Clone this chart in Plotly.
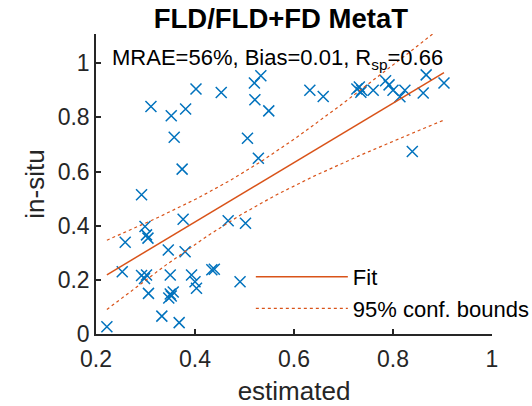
import numpy as np
import plotly.graph_objects as go

# ---- data ----
estimated = [
    0.222, 0.292, 0.299, 0.302, 0.305, 0.259, 0.376, 0.346, 0.380, 0.467,
    0.502, 0.253, 0.292, 0.302, 0.298, 0.350, 0.393, 0.400, 0.403, 0.434,
    0.439, 0.491, 0.306, 0.350, 0.347, 0.352, 0.356, 0.333, 0.368,
    0.311, 0.352, 0.381, 0.402, 0.453, 0.520, 0.533, 0.521, 0.549, 0.358,
    0.506, 0.374, 0.528,
    0.632, 0.659, 0.727, 0.732, 0.737, 0.735, 0.760, 0.785, 0.792, 0.800,
    0.814, 0.824, 0.861, 0.867, 0.903, 0.839,
]
in_situ = [
    0.027, 0.514, 0.397, 0.366, 0.354, 0.339, 0.424, 0.310, 0.304, 0.418,
    0.409, 0.230, 0.216, 0.218, 0.205, 0.218, 0.218, 0.193, 0.169, 0.237,
    0.239, 0.193, 0.150, 0.148, 0.133, 0.140, 0.155, 0.066, 0.042,
    0.840, 0.806, 0.831, 0.905, 0.892, 0.927, 0.954, 0.865, 0.824, 0.727,
    0.723, 0.609, 0.649,
    0.900, 0.877, 0.905, 0.912, 0.900, 0.893, 0.900, 0.935, 0.920, 0.900,
    0.876, 0.900, 0.890, 0.957, 0.927, 0.674,
]
# fitted line parameters: in_situ = slope*estimated + intercept
fit_slope = 1.097
fit_intercept = -0.025
title_text = "FLD/FLD+FD MetaT"
stats_text = "MRAE=56%, Bias=0.01, R<sub>sp</sub>=0.66"
x_ticks = [0.2, 0.4, 0.6, 0.8, 1.0]
x_ticklabels = ["0.2", "0.4", "0.6", "0.8", "1"]
y_ticks = [0, 0.2, 0.4, 0.6, 0.8, 1.0]
y_ticklabels = ["0", "0.2", "0.4", "0.6", "0.8", "1"]

# ---- 95% (simultaneous) confidence bounds of the fitted line ----
x = np.array(estimated)
y = np.array(in_situ)
n = len(x)
res = y - (fit_intercept + fit_slope * x)
s = np.sqrt(np.sum(res ** 2) / (n - 2))
xbar = x.mean()
sxx = np.sum((x - xbar) ** 2)
crit = 2.51  # sqrt(2 * F_0.95(2, n-2))
xf = np.linspace(x.min(), x.max(), 100)
yf = fit_intercept + fit_slope * xf
hw = crit * s * np.sqrt(1.0 / n + (xf - xbar) ** 2 / sxx)

blue = "#0072BD"
orange = "#D95319"
axc = "#262626"
font = "Liberation Sans, Arial, sans-serif"

fig = go.Figure()
fig.add_trace(go.Scatter(x=estimated, y=in_situ, mode="markers",
                         marker=dict(symbol="x-thin", size=11, color=blue,
                                     line=dict(width=1.5, color=blue)),
                         showlegend=False))
fig.add_trace(go.Scatter(x=xf, y=yf, mode="lines", name="Fit",
                         line=dict(color=orange, width=1.5)))
fig.add_trace(go.Scatter(x=xf, y=yf + hw, mode="lines", name="95% conf. bounds",
                         line=dict(color=orange, width=1.2, dash="dot")))
fig.add_trace(go.Scatter(x=xf, y=yf - hw, mode="lines", showlegend=False,
                         line=dict(color=orange, width=1.2, dash="dot")))

fig.update_layout(
    width=532, height=406,
    margin=dict(l=96, r=40, t=34, b=72, autoexpand=False),
    paper_bgcolor="white", plot_bgcolor="white",
    font=dict(family=font, color=axc, size=22),
    title=dict(text="<b>" + title_text + "</b>", x=0.528, xanchor="center",
               y=0.955, yanchor="middle", font=dict(size=27.5, color="black")),
    legend=dict(x=0.391, y=0.26, xanchor="left", yanchor="top",
                bgcolor="rgba(255,255,255,0)", font=dict(size=22, color="black"),
                itemwidth=92, tracegroupgap=0),
    annotations=[dict(text=stats_text, xref="paper", yref="paper",
                      x=0.035, y=0.915, xanchor="left", yanchor="middle",
                      showarrow=False, font=dict(size=22, color="black"))],
)
fig.update_xaxes(range=[0.2, 1.0], tickvals=x_ticks, ticktext=x_ticklabels,
                 showline=True, linecolor=axc, linewidth=1.5, ticks="inside",
                 ticklen=5, tickcolor=axc, tickwidth=1.5, showgrid=False, zeroline=False,
                 tickfont=dict(size=23, color=axc), ticklabelstandoff=4,
                 title=dict(text="estimated", font=dict(size=26, color=axc), standoff=10))
fig.update_yaxes(range=[0, 1.108], tickvals=y_ticks, ticktext=y_ticklabels,
                 showline=True, linecolor=axc, linewidth=1.5, ticks="inside",
                 ticklen=5, tickcolor=axc, tickwidth=1.5, showgrid=False, zeroline=False,
                 tickfont=dict(size=23, color=axc),
                 title=dict(text="in-situ", font=dict(size=26, color=axc), standoff=6))

fig.write_html("out.html")
